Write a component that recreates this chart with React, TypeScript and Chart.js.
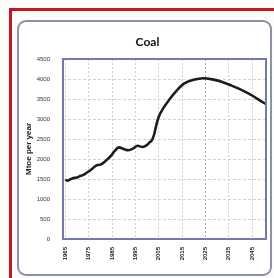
import React, { useEffect, useRef } from "react";
import { Chart, registerables } from "chart.js";

Chart.register(...registerables);

const chartTitle = "Coal";
const yAxisTitle = "Mtoe per year";

const years = [
  1965, 1966, 1967, 1968, 1970, 1971, 1973, 1974, 1976, 1978, 1980, 1981, 1983,
  1985, 1986, 1988, 1990, 1992, 1994, 1996, 1998, 2000, 2001, 2002, 2003, 2004,
  2005, 2007, 2010, 2013, 2016, 2020, 2024, 2028, 2032, 2036, 2040, 2044, 2048,
  2051,
];
const coalMtoe = [
  1480, 1455, 1490, 1515, 1540, 1565, 1610, 1650, 1730, 1830, 1860, 1890, 1990,
  2110, 2190, 2290, 2250, 2220, 2260, 2330, 2300, 2350, 2410, 2460, 2600, 2850,
  3050, 3270, 3520, 3730, 3890, 3980, 4020, 3990, 3930, 3840, 3740, 3620, 3480,
  3370,
];
const xTickYears = [1965, 1975, 1985, 1995, 2005, 2015, 2025, 2035, 2045];
const yTickValues = [0, 500, 1000, 1500, 2000, 2500, 3000, 3500, 4000, 4500];

export default function App() {
  const ref = useRef<HTMLCanvasElement>(null);

  useEffect(() => {
    document.body.style.margin = "0";
    const frame = {
      id: "plotFrame",
      afterDatasetsDraw(chart: any) {
        const { ctx, chartArea } = chart;
        ctx.save();
        ctx.strokeStyle = "#7479b4";
        ctx.lineWidth = 2;
        ctx.strokeRect(
          chartArea.left,
          chartArea.top,
          chartArea.right - chartArea.left,
          chartArea.bottom - chartArea.top
        );
        ctx.restore();
      },
    };
    const chart = new Chart(ref.current as HTMLCanvasElement, {
      type: "line",
      data: {
        datasets: [
          {
            label: chartTitle,
            data: years.map((y, i) => ({ x: y, y: coalMtoe[i] })),
            borderColor: "#1c1c1c",
            borderWidth: 2.6,
            pointRadius: 0,
            cubicInterpolationMode: "monotone",
            fill: false,
          },
        ],
      },
      plugins: [frame],
      options: {
        responsive: false,
        animation: false,
        devicePixelRatio: 1,
        layout: { padding: { left: 29, right: 8, top: 35, bottom: 0 } },
        plugins: {
          legend: { display: false },
          tooltip: { enabled: false },
          title: {
            display: true,
            text: chartTitle,
            color: "#111",
            font: { family: "Lato", size: 12, weight: "bold", lineHeight: 1.2 },
            padding: { top: 0, bottom: 9.6 },
          },
        },
        scales: {
          x: {
            type: "linear",
            min: 1964,
            max: 2051,
            afterBuildTicks: (scale: any) => {
              scale.ticks = xTickYears.map((v) => ({ value: v }));
            },
            afterFit: (scale: any) => {
              scale.height = 39;
            },
            border: { display: false, dash: [2, 2] },
            grid: {
              color: (c: any) => (c.tick && c.tick.value === 2025 ? "#a8a8a8" : "#cfcfcf"),
              lineWidth: 1,
              drawTicks: false,
            },
            ticks: {
              autoSkip: false,
              maxRotation: 90,
              minRotation: 90,
              padding: 8,
              color: "#222",
              font: { family: "Liberation Sans", size: 6, weight: "bold" },
              callback: (v: any) => String(v),
            },
          },
          y: {
            min: 0,
            max: 4500,
            afterBuildTicks: (scale: any) => {
              scale.ticks = yTickValues.map((v) => ({ value: v }));
            },
            afterFit: (scale: any) => {
              scale.width = 34;
            },
            border: { display: false, dash: [3, 2] },
            grid: {
              color: "#d2d2d2",
              lineWidth: 1,
              drawTicks: false,
            },
            ticks: {
              padding: 13,
              color: "#333",
              font: { family: "Liberation Sans", size: 6 },
              callback: (v: any) => String(v),
            },
            title: {
              display: true,
              text: yAxisTitle,
              color: "#222",
              font: { family: "Liberation Sans", size: 8, weight: "bold", lineHeight: 1.2 },
              padding: { top: -5, bottom: 0 },
            },
          },
        },
      },
    } as any);
    return () => chart.destroy();
  }, []);

  return (
    <div
      style={{
        position: "fixed",
        left: 0,
        top: 0,
        width: 274,
        height: 278,
        background: "#fdfbf9",
        overflow: "hidden",
      }}
    >
      <div
        style={{
          position: "absolute",
          left: 9,
          top: 8,
          width: 290,
          height: 300,
          border: "3px solid #c8141e",
          boxSizing: "border-box",
        }}
      />
      <div
        style={{
          position: "absolute",
          left: 17,
          top: 20,
          width: 255,
          height: 256,
          border: "2px solid #8a93a6",
          borderRadius: 9,
          background: "#ffffff",
          boxSizing: "border-box",
        }}
      />
      <canvas
        ref={ref}
        width={274}
        height={278}
        style={{ position: "absolute", left: 0, top: 0 }}
      />
    </div>
  );
}
